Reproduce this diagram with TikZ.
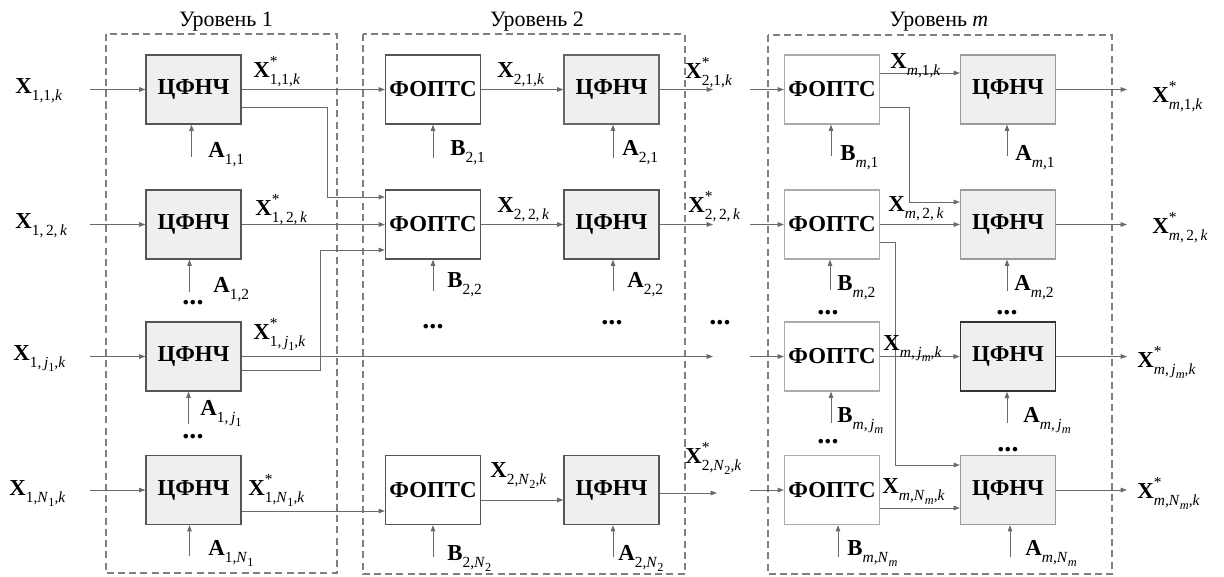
\documentclass[tikz,border=0pt]{standalone}
\usepackage{fontspec}
\setmainfont{Liberation Serif}
\usetikzlibrary{arrows.meta,calc}
\definecolor{boxfill}{HTML}{EEEFF1}
\definecolor{ln}{HTML}{6A6A6A}
\definecolor{bdark}{HTML}{555555}
\definecolor{blight}{HTML}{ABABAB}
\definecolor{bmid}{HTML}{9A9A9A}
\definecolor{dashc}{HTML}{808080}
\newcommand\ssz{\fontsize{8.8}{9}\selectfont}
\newcommand\vx[2]{\textbf{#1}\raisebox{-0.33em}{\ssz #2}}
\newcommand\vxs[2]{\textbf{#1}\makebox[0pt][l]{\raisebox{0.48em}{\ssz *}}\raisebox{-0.33em}{\ssz #2}}
\newcommand\ii[1]{\textit{#1}}
\newcommand\sj[2]{\textit{#1}\raisebox{-0.28em}{\fontsize{7}{8}\selectfont #2}}
\newcommand\jm{\sj{j}{\textit{m}}}
\newcommand\Nm{\sj{N}{\textit{m}}}
\tikzset{
  cfbox/.style={draw=bdark, fill=boxfill, line width=0.7pt, minimum width=1.9cm, minimum height=1.38cm, inner sep=0pt, font=\fontsize{13}{15}\selectfont\bfseries},
  fobox/.style={cfbox, fill=white},
  lab/.style={anchor=base west, inner sep=0pt, font=\fontsize{13}{15}\selectfont},
  arr/.style={draw=ln, line width=0.55pt, -{Triangle[length=3.6pt,width=2.6pt]}},
  lvl/.style={draw=dashc, dash pattern=on 4pt off 2.4pt, line width=0.6pt},
  ttl/.style={anchor=base, inner sep=0pt, font=\fontsize{12.5}{14}\selectfont},
  dotsn/.style={inner sep=0pt, font=\fontsize{16}{18}\selectfont\bfseries}
}
\begin{document}
\begin{tikzpicture}[x=0.02cm,y=-0.02cm]
\useasboundingbox (0,0) rectangle (1224,576);
% level frames
\draw[lvl] (106,34) rectangle (337,573);
\draw[lvl] (363,34) rectangle (685,574);
\draw[lvl] (768,35) rectangle (1112,574);
\node[ttl] (t1) at (226,26) {Уровень 1};
\node[ttl] (t2) at (537,26) {Уровень 2};
\node[ttl] (tm) at (939,26) {Уровень \textit{m}};
% level 1 blocks
\node[cfbox] (c11) at (193.5,89.5) {ЦФНЧ};
\node[cfbox] (c12) at (193.5,224.5) {ЦФНЧ};
\node[cfbox] (c13) at (193.5,356.5) {ЦФНЧ};
\node[cfbox] (c14) at (193.5,490) {ЦФНЧ};
% level 2 blocks
\node[fobox] (f21) at (433,89.5) {ФОПТС};
\node[cfbox, draw=bdark!90] (c21) at (611.5,89.5) {ЦФНЧ};
\node[fobox] (f22) at (433,224.5) {ФОПТС};
\node[cfbox] (c22) at (611.5,224.5) {ЦФНЧ};
\node[fobox] (f2N) at (433,490) {ФОПТС};
\node[cfbox] (c2N) at (611.5,490) {ЦФНЧ};
% level m blocks
\node[fobox, draw=blight] (fm1) at (832,89.5) {ФОПТС};
\node[cfbox, draw=bmid] (cm1) at (1008,89.5) {ЦФНЧ};
\node[fobox, draw=blight] (fm2) at (832,224.5) {ФОПТС};
\node[cfbox, draw=bmid] (cm2) at (1008,224.5) {ЦФНЧ};
\node[fobox, draw=blight] (fmj) at (832,356.5) {ФОПТС};
\node[cfbox, draw=black!80, line width=0.9pt] (cmj) at (1008,356.5) {ЦФНЧ};
\node[fobox, draw=blight] (fmN) at (832,490) {ФОПТС};
\node[cfbox, draw=bmid] (cmN) at (1008,490) {ЦФНЧ};
% free ends
\coordinate (i1) at (90,89.5);
\coordinate (i2) at (90,224.5);
\coordinate (i3) at (90,356.5);
\coordinate (i4) at (90,490);
\coordinate (e1) at (713,89.5);
\coordinate (e2) at (713,224.5);
\coordinate (e3) at (713,356.5);
\coordinate (e4) at (717,493);
\coordinate (s1) at (750,89.5);
\coordinate (s2) at (750,224.5);
\coordinate (s3) at (750,356.5);
\coordinate (s4) at (750,490);
\coordinate (o1) at (1127,89.5);
\coordinate (o2) at (1127,224.5);
\coordinate (o3) at (1127,356.5);
\coordinate (o4) at (1127,490);
% level 1 inputs
\draw[arr] (i1) -- (c11.west);
\draw[arr] (i2) -- (c12.west);
\draw[arr] (i3) -- (c13.west);
\draw[arr] (i4) -- (c14.west);
% level 1 outputs
\draw[arr] (c11.east) -- (f21.west);
\draw[arr] ($(c11.east)+(0,18)$) -- ++(86,0) |- ($(f22.west)+(0,-27.5)$);
\draw[arr] (c12.east) -- (f22.west);
\draw[arr] (c13.east) -- (e3);
\draw[arr] ($(c13.east)+(0,13.5)$) -- ++(79,0) |- ($(f22.west)+(0,25.5)$);
\draw[arr] ($(c14.east)+(0,21)$) -- ($(f2N.west)+(0,21)$);
% level 1 A arrows
\draw[arr] ($(c11.south)+(-2,32)$) -- ($(c11.south)+(-2,0)$);
\draw[arr] ($(c12.south)+(-4,32)$) -- ($(c12.south)+(-4,0)$);
\draw[arr] ($(c13.south)+(-5,32)$) -- ($(c13.south)+(-5,0)$);
\draw[arr] ($(c14.south)+(-4,31)$) -- ($(c14.south)+(-4,0)$);
% level 2
\draw[arr] (f21.east) -- (c21.west);
\draw[arr] (f22.east) -- (c22.west);
\draw[arr] ($(f2N.east)+(0,10)$) -- ($(c2N.west)+(0,10)$);
\draw[arr] (c21.east) -- (e1);
\draw[arr] (c22.east) -- (e2);
\draw[arr] ($(c2N.east)+(0,3)$) -- (e4);
\draw[arr] ($(f21.south)+(0,33)$) -- (f21.south);
\draw[arr] ($(f22.south)+(0,31)$) -- (f22.south);
\draw[arr] ($(f2N.south)+(0,32)$) -- (f2N.south);
\draw[arr] ($(c21.south)+(1.5,33)$) -- ($(c21.south)+(1.5,0)$);
\draw[arr] ($(c22.south)+(1.5,31)$) -- ($(c22.south)+(1.5,0)$);
\draw[arr] ($(c2N.south)+(1.5,32)$) -- ($(c2N.south)+(1.5,0)$);
% level m inputs
\draw[arr] (s1) -- (fm1.west);
\draw[arr] (s2) -- (fm2.west);
\draw[arr] (s3) -- (fmj.west);
\draw[arr] (s4) -- (fmN.west);
% level m internal
\draw[arr] ($(fm1.east)+(0,-16.5)$) -- ($(cm1.west)+(0,-16.5)$);
\draw[arr] ($(fm1.east)+(0,17.5)$) -- ++(29,0) |- ($(cm2.west)+(0,-22.5)$);
\draw[arr] (fm2.east) -- (cm2.west);
\draw[arr] ($(fm2.east)+(0,17.5)$) -- ++(15,0) |- ($(cmN.west)+(0,-25)$);
\draw[arr] (fmj.east) -- (cmj.west);
\draw[arr] ($(fmN.east)+(0,18)$) -- ($(cmN.west)+(0,18)$);
% level m B/A arrows
\draw[arr] ($(fm1.south)+(-1,31)$) -- ($(fm1.south)+(-1,0)$);
\draw[arr] ($(fm2.south)+(-2,30)$) -- ($(fm2.south)+(-2,0)$);
\draw[arr] ($(fmj.south)+(-1,31)$) -- ($(fmj.south)+(-1,0)$);
\draw[arr] ($(fmN.south)+(6,32)$) -- ($(fmN.south)+(6,0)$);
\draw[arr] ($(cm1.south)+(-1,31)$) -- ($(cm1.south)+(-1,0)$);
\draw[arr] ($(cm2.south)+(-1,31)$) -- ($(cm2.south)+(-1,0)$);
\draw[arr] ($(cmj.south)+(-1,31)$) -- ($(cmj.south)+(-1,0)$);
\draw[arr] ($(cmN.south)+(2,32)$) -- ($(cmN.south)+(2,0)$);
% level m outputs
\draw[arr] (cm1.east) -- (o1);
\draw[arr] (cm2.east) -- (o2);
\draw[arr] (cmj.east) -- (o3);
\draw[arr] (cmN.east) -- (o4);
% labels level 1
\node[lab] (lx11) at (15,93) {\vx{X}{1,1,\ii{k}}};
\node[lab] (lx12) at (15,228) {\vx{X}{1,\,2,\,\ii{k}}};
\node[lab] (lx13) at (13,360) {\vx{X}{1,\,\sj{j}{1},\ii{k}}};
\node[lab] (lx14) at (9,495) {\vx{X}{1,\sj{N}{1},\ii{k}}};
\node[lab] (ly11) at (253,77) {\vxs{X}{1,1,\ii{k}}};
\node[lab] (ly12) at (255,215) {\vxs{X}{1,\,2,\,\ii{k}}};
\node[lab] (ly13) at (253,339) {\vxs{X}{1,\,\sj{j}{1},\ii{k}}};
\node[lab] (ly14) at (248,495) {\vxs{X}{1,\sj{N}{1},\ii{k}}};
\node[lab] (la11) at (208,157) {\vx{A}{1,1}};
\node[lab] (la12) at (213,292) {\vx{A}{1,2}};
\node[lab] (la13) at (200,415) {\vx{A}{1,\,\sj{j}{1}}};
\node[lab] (la14) at (208,555) {\vx{A}{1,\sj{N}{1}}};
% labels level 2
\node[lab] (lx21) at (497,77) {\vx{X}{2,1,\ii{k}}};
\node[lab] (lx22) at (497,212) {\vx{X}{2,\,2,\,\ii{k}}};
\node[lab] (lx2N) at (490,477) {\vx{X}{2,\sj{N}{2},\ii{k}}};
\node[lab] (lb21) at (450,155) {\vx{B}{2,1}};
\node[lab] (lb22) at (447,287) {\vx{B}{2,2}};
\node[lab] (lb2N) at (447,560) {\vx{B}{2,\sj{N}{2}}};
\node[lab] (la21) at (622,155) {\vx{A}{2,1}};
\node[lab] (la22) at (627,287) {\vx{A}{2,2}};
\node[lab] (la2N) at (618,560) {\vx{A}{2,\sj{N}{2}}};
\node[lab] (ly21) at (685,78) {\vxs{X}{2,1,\ii{k}}};
\node[lab] (ly22) at (688,212) {\vxs{X}{2,\,2,\,\ii{k}}};
\node[lab] (ly2N) at (685,463) {\vxs{X}{2,\sj{N}{2},\ii{k}}};
% labels level m
\node[lab] (lxm1) at (890,68) {\vx{X}{\ii{m},1,\ii{k}}};
\node[lab] (lxm2) at (888,211) {\vx{X}{\ii{m},\,2,\,\ii{k}}};
\node[lab] (lxmj) at (883,350) {\vx{X}{\ii{m},\,\jm,\ii{k}}};
\node[lab] (lxmN) at (882,493) {\vx{X}{\ii{m},\Nm,\ii{k}}};
\node[lab] (lbm1) at (840,160) {\vx{B}{\ii{m},1}};
\node[lab] (lbm2) at (837,290) {\vx{B}{\ii{m},2}};
\node[lab] (lbmj) at (837,422) {\vx{B}{\ii{m},\,\jm}};
\node[lab] (lbmN) at (847,555) {\vx{B}{\ii{m},\Nm}};
\node[lab] (lam1) at (1015,160) {\vx{A}{\ii{m},1}};
\node[lab] (lam2) at (1014,290) {\vx{A}{\ii{m},2}};
\node[lab] (lamj) at (1023,422) {\vx{A}{\ii{m},\,\jm}};
\node[lab] (lamN) at (1025,555) {\vx{A}{\ii{m},\Nm}};
\node[lab] (lym1) at (1152,102) {\vxs{X}{\ii{m},1,\ii{k}}};
\node[lab] (lym2) at (1152,233) {\vxs{X}{\ii{m},\,2,\,\ii{k}}};
\node[lab] (lymj) at (1137,367) {\vxs{X}{\ii{m},\,\jm,\ii{k}}};
\node[lab] (lymN) at (1137,498) {\vxs{X}{\ii{m},\Nm,\ii{k}}};
% dots
\node[dotsn] (d1) at (193,303) {...};
\node[dotsn] (d2) at (193,437) {...};
\node[dotsn] (d3) at (433,327) {...};
\node[dotsn] (d4) at (612,323) {...};
\node[dotsn] (d5) at (720,323) {...};
\node[dotsn] (d6) at (828,313) {...};
\node[dotsn] (d7) at (1007,313) {...};
\node[dotsn] (d8) at (828,442) {...};
\node[dotsn] (d9) at (1008,450) {...};
\end{tikzpicture}
\end{document}
